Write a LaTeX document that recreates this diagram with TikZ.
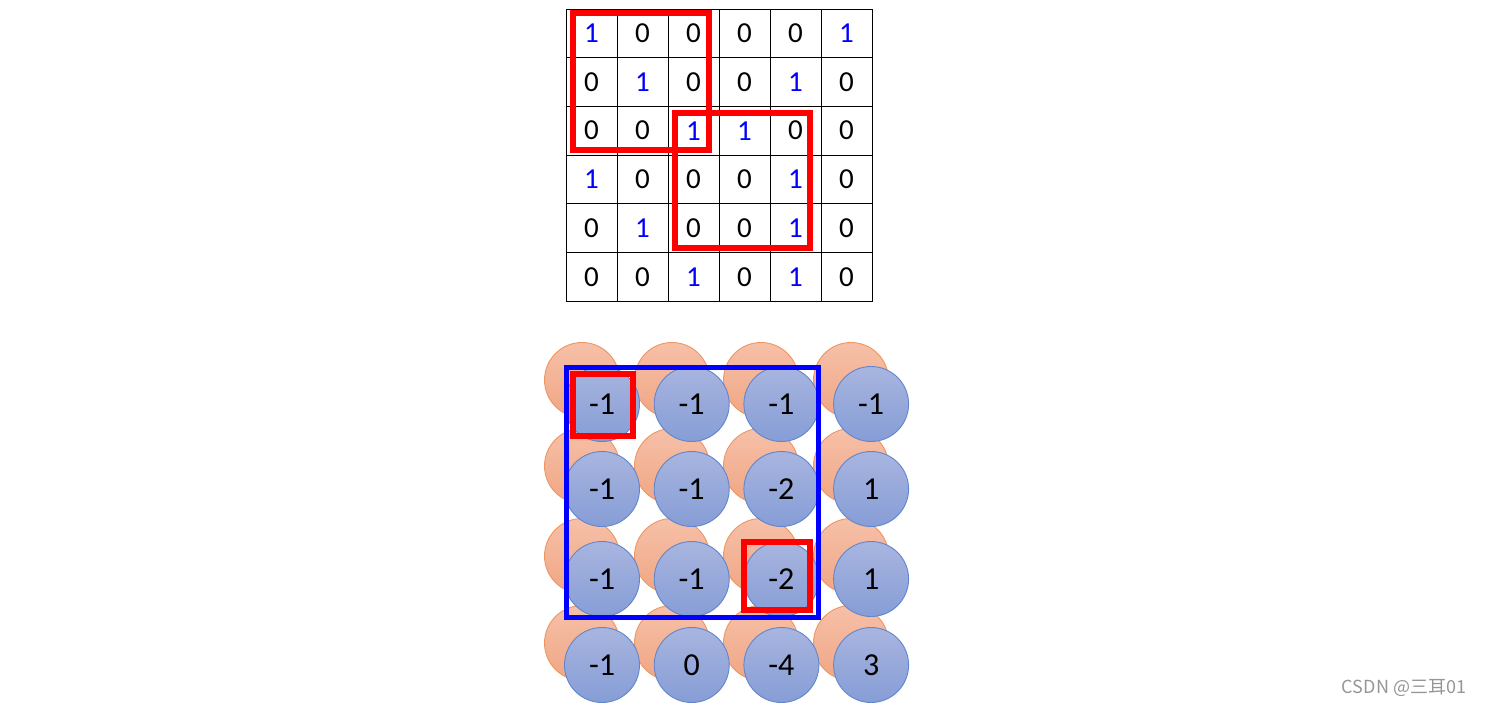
\documentclass[tikz,border=0pt]{standalone}
\usepackage{fontspec}
\setmainfont{Carlito}
\newfontfamily\cjkfont{Noto Sans CJK SC}
\definecolor{bluefillT}{RGB}{168,181,223}
\definecolor{bluefillB}{RGB}{134,157,214}
\definecolor{blueedge}{RGB}{98,133,204}
\definecolor{orfillT}{RGB}{246,192,168}
\definecolor{orfillB}{RGB}{240,166,132}
\definecolor{oredge}{RGB}{238,150,98}
\definecolor{numblue}{RGB}{0,0,255}
\definecolor{wmgray}{RGB}{150,150,150}
\begin{document}
\begin{tikzpicture}[x=1pt,y=-1pt,
  cell/.style={draw=black,line width=0.8pt,minimum width=51pt,minimum height=48.7pt,inner sep=0pt,font=\fontsize{29}{29}\selectfont},
  one/.style={text=numblue},
  bluedot/.style={circle,draw=blueedge,line width=0.9pt,top color=bluefillT,bottom color=bluefillB,minimum size=75pt,inner sep=0pt,font=\fontsize{32}{32}\selectfont},
  oradot/.style={circle,draw=oredge,line width=0.9pt,top color=orfillT,bottom color=orfillB,minimum size=75pt,inner sep=0pt},
  redbox/.style={draw=red,line width=5.5pt},
  bluebox/.style={draw=numblue,line width=5pt}
]
\useasboundingbox (0,0) rectangle (1487,707);
% top grid
\foreach \r/\vals in {1/{1,0,0,0,0,1},2/{0,1,0,0,1,0},3/{0,0,1,1,0,0},4/{1,0,0,0,1,0},5/{0,1,0,0,1,0},6/{0,0,1,0,1,0}}{
  \foreach \v [count=\c] in \vals {
    \pgfmathsetmacro{\cx}{566+51*(\c-0.5)}
    \pgfmathsetmacro{\cy}{9+48.67*(\r-0.5)}
    \ifnum\v=1
      \node[cell,one] (g\r\c) at (\cx,\cy) {1};
    \else
      \node[cell] (g\r\c) at (\cx,\cy) {0};
    \fi
  }
}
\draw[redbox] (573,13) rectangle (709,150);
\draw[redbox] (675,113) rectangle (810,248);
% bottom circles
\foreach \r/\ry in {1/380,2/466,3/556,4/643}{
  \foreach \c/\cx in {1/582,2/672,3/761,4/851}{
    \node[oradot] (o\r\c) at (\cx,\ry) {};
  }
}
\foreach \r/\ry/\vals in {1/404/{-1,-1,-1,-1},2/489/{-1,-1,-2,1},3/579/{-1,-1,-2,1},4/665/{-1,0,-4,3}}{
  \foreach \v [count=\c] in \vals {
    \pgfmathsetmacro{\cx}{602+89.7*(\c-1)}
    \node[bluedot] (b\r\c) at (\cx,\ry) {\v};
  }
}
\draw[bluebox] (566,367) rectangle (818,617);
\draw[redbox] (573,374) rectangle (633,436);
\draw[redbox] (744,542) rectangle (810,610);
% watermark
\node[text=wmgray,font=\cjkfont\fontsize{18}{18}\selectfont] (wm) at (1404,688) {CSDN @三耳01};
\end{tikzpicture}
\end{document}
